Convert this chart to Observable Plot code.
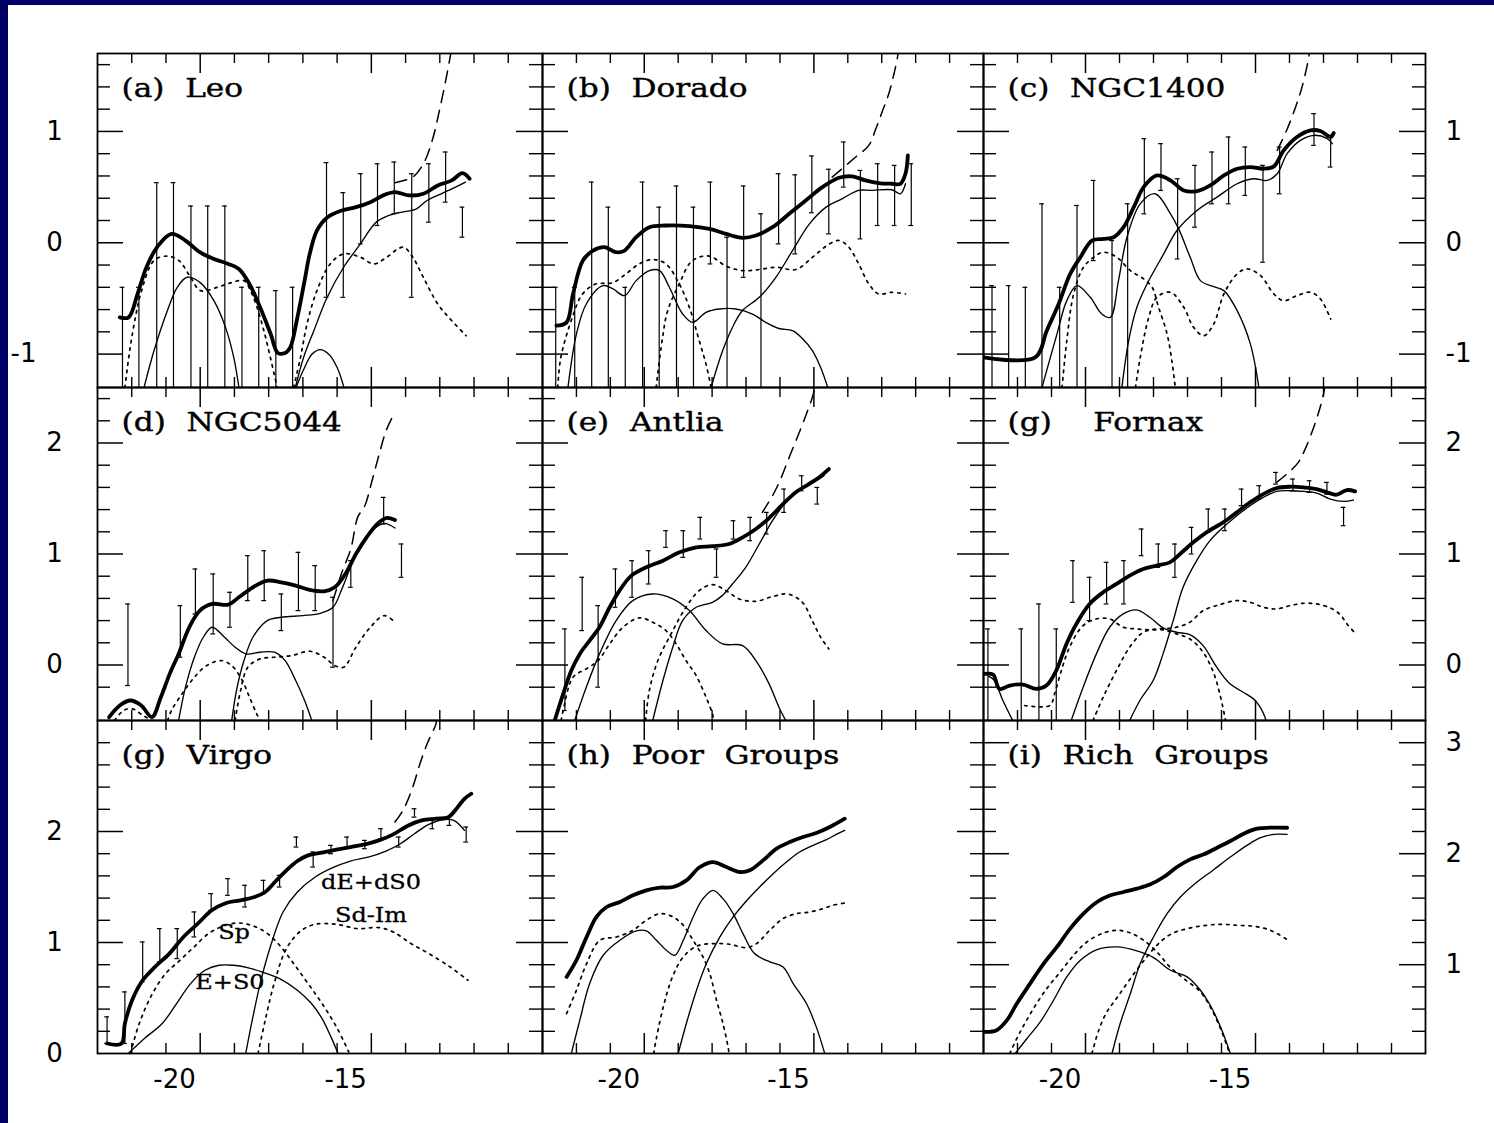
<!DOCTYPE html>
<html><head><meta charset="utf-8">
<script src="https://cdn.jsdelivr.net/npm/d3@7"></script>
<script src="https://cdn.jsdelivr.net/npm/@observablehq/plot@0.6"></script>
<style>
html,body{margin:0;padding:0;background:#fff;}
#page{position:relative;width:1494px;height:1123px;background:#fff;overflow:hidden;}
#bandTop{position:absolute;left:0;top:0;width:1494px;height:5px;background:#000068;}
#bandLeft{position:absolute;left:0;top:0;width:8px;height:1123px;background:#000068;}
</style></head>
<body><div id="page"><div id="bandTop"></div><div id="bandLeft"></div></div>
<script>
// ---------- tick / label values ----------
const xDomain = [-22.25, -9.25];
const xMinorTicks = [-21.25, -20.25, -18.25, -17.25, -16.25, -15.25, -13.25, -12.25, -11.25, -10.25];
const xMajorTicks = [-19.25, -14.25];
const xTickLabels = [-20, -15];
const leftLabelsRow = [[1, 0, -1], [2, 1, 0], [2, 1, 0]];
const rightLabelsRow = [[1, 0, -1], [2, 1, 0], [3, 2, 1]];

// ---------- (a) Leo ----------
const leo_total = [[-21.60,-0.67],[-21.34,-0.67],[-21.08,-0.46],[-20.82,-0.22],[-20.51,-0.04],[-20.09,0.08],[-19.68,0.02],[-19.26,-0.085],[-18.85,-0.145],[-18.43,-0.19],[-18.12,-0.235],[-17.81,-0.37],[-17.50,-0.58],[-17.19,-0.82],[-16.98,-0.99],[-16.77,-0.99],[-16.62,-0.94],[-16.41,-0.67],[-16.20,-0.34],[-16.05,-0.10],[-15.84,0.11],[-15.53,0.23],[-15.11,0.29],[-14.70,0.32],[-14.28,0.365],[-13.87,0.43],[-13.56,0.455],[-13.14,0.425],[-12.73,0.44],[-12.31,0.515],[-11.90,0.56],[-11.59,0.625],[-11.38,0.575]];
const leo_e = [[-20.89,-1.3],[-20.6,-0.97],[-20.21,-0.61],[-19.92,-0.40],[-19.63,-0.31],[-19.24,-0.36],[-18.85,-0.52],[-18.51,-0.76],[-18.27,-1.03],[-18.12,-1.3]];
const leo_e2 = [[-16.45,-1.3],[-16.2,-1.12],[-15.98,-1.0],[-15.74,-0.96],[-15.5,-1.0],[-15.25,-1.12],[-15.05,-1.3]];
const leo_de = [[-16.47,-1.3],[-16.23,-1.03],[-15.93,-0.79],[-15.54,-0.49],[-15.06,-0.22],[-14.57,-0.01],[-14.09,0.19],[-13.6,0.26],[-13.35,0.275],[-12.93,0.305],[-12.62,0.38],[-12.21,0.44],[-11.79,0.50],[-11.5,0.545]];
const leo_sp = [[-21.45,-1.3],[-21.3,-0.95],[-21.13,-0.65],[-20.99,-0.46],[-20.6,-0.16],[-20.21,-0.12],[-19.87,-0.16],[-19.55,-0.3],[-19.24,-0.43],[-18.75,-0.40],[-18.36,-0.36],[-17.97,-0.34],[-17.78,-0.43],[-17.59,-0.58],[-17.39,-0.79],[-17.2,-1.03],[-17.0,-1.3]];
const leo_sd = [[-16.52,-1.3],[-16.32,-1.03],[-16.13,-0.73],[-15.84,-0.43],[-15.45,-0.19],[-15.06,-0.10],[-14.57,-0.13],[-14.18,-0.19],[-13.8,-0.13],[-13.5,-0.06],[-13.3,-0.04],[-13.04,-0.13],[-12.73,-0.31],[-12.31,-0.55],[-11.9,-0.70],[-11.48,-0.835]];
const leo_ext = [[-13.56,0.54],[-13.04,0.59],[-12.73,0.71],[-12.47,0.92],[-12.26,1.19],[-12.05,1.5],[-11.93,1.7]];
const leo_err = [[-21.52,-0.40,-1.3],[-21.04,-0.40,-1.3],[-20.52,0.54,-1.3],[-20.03,0.54,-1.3],[-19.52,0.33,-1.3],[-19.03,0.33,-1.3],[-18.53,0.33,-1.3],[-18.03,-0.40,-1.3],[-17.54,-0.40,-1.3],[-17.04,-0.43,-1.3],[-16.55,-0.40,-1.3],[-15.56,0.72,-0.49],[-15.07,0.45,-0.49],[-14.56,0.62,-0.01],[-14.07,0.71,0.155],[-13.58,0.725,0.26],[-13.07,0.62,-0.49],[-12.57,0.71,0.185],[-12.08,0.815,0.365],[-11.59,0.32,0.05]];

// ---------- (b) Dorado ----------
const dor_total = [[-21.84,-0.745],[-21.54,-0.715],[-21.35,-0.46],[-21.06,-0.16],[-20.76,-0.07],[-20.42,-0.04],[-20.08,-0.085],[-19.83,-0.07],[-19.49,0.05],[-19.10,0.14],[-18.61,0.155],[-17.92,0.15],[-17.33,0.125],[-16.84,0.08],[-16.35,0.044],[-15.96,0.065],[-15.47,0.14],[-14.98,0.26],[-14.49,0.38],[-14.00,0.50],[-13.51,0.584],[-13.12,0.596],[-12.73,0.56],[-12.34,0.536],[-11.95,0.53],[-11.70,0.53],[-11.55,0.62],[-11.48,0.785]];
const dor_e = [[-21.50,-1.3],[-21.25,-0.82],[-20.96,-0.55],[-20.47,-0.385],[-20.17,-0.415],[-19.83,-0.475],[-19.49,-0.34],[-19.10,-0.25],[-18.80,-0.25],[-18.51,-0.40],[-18.12,-0.64],[-17.82,-0.715],[-17.43,-0.625],[-17.04,-0.595],[-16.55,-0.595],[-16.06,-0.64],[-15.67,-0.715],[-15.28,-0.77],[-14.88,-0.79],[-14.59,-0.86],[-14.29,-0.97],[-14.05,-1.12],[-13.84,-1.3]];
const dor_de = [[-17.28,-1.3],[-16.94,-0.97],[-16.6,-0.73],[-16.36,-0.61],[-15.86,-0.49],[-15.37,-0.31],[-14.88,-0.07],[-14.38,0.17],[-13.89,0.32],[-13.45,0.39],[-12.93,0.47],[-12.53,0.47],[-11.95,0.476],[-11.70,0.44],[-11.55,0.53]];
const dor_sp = [[-21.8,-1.3],[-21.71,-1.03],[-21.37,-0.67],[-21.07,-0.46],[-20.68,-0.37],[-20.19,-0.36],[-19.79,-0.28],[-19.4,-0.19],[-19.0,-0.15],[-18.61,-0.19],[-18.22,-0.37],[-17.92,-0.58],[-17.63,-0.88],[-17.43,-1.09],[-17.28,-1.3]];
const dor_sd = [[-18.9,-1.3],[-18.86,-1.2],[-18.71,-0.85],[-18.56,-0.61],[-18.22,-0.37],[-17.83,-0.16],[-17.33,-0.12],[-16.84,-0.21],[-16.36,-0.25],[-15.86,-0.24],[-15.37,-0.22],[-14.78,-0.24],[-14.29,-0.13],[-13.79,-0.01],[-13.5,0.02],[-13.22,-0.04],[-12.93,-0.19],[-12.63,-0.37],[-12.34,-0.46],[-11.95,-0.445],[-11.55,-0.46]];
const dor_ext = [[-13.71,0.59],[-13.02,0.77],[-12.63,0.875],[-12.44,1.01],[-12.24,1.175],[-12.04,1.34],[-11.8,1.64],[-11.77,1.7]];
const dor_err = [[-21.86,-0.40,-1.3],[-21.30,-0.40,-1.3],[-20.80,0.545,-1.3],[-20.31,0.32,-1.3],[-19.81,-0.40,-1.3],[-19.30,0.545,-1.3],[-18.81,0.32,-1.3],[-18.30,0.51,-1.3],[-17.80,0.32,-1.3],[-17.30,0.545,-0.19],[-16.81,0.05,-1.3],[-16.32,0.51,-0.31],[-15.81,0.26,-1.3],[-15.29,0.62,-0.01],[-14.80,0.61,-0.10],[-14.31,0.78,0.27],[-13.81,0.66,0.08],[-13.37,0.905,0.50],[-12.88,0.65,0.035],[-12.37,0.71,0.155],[-11.87,0.695,0.155],[-11.38,0.71,0.155]];

// ---------- (c) NGC1400 ----------
const n14_total = [[-22.25,-1.03],[-20.73,-1.03],[-20.39,-0.79],[-20.04,-0.55],[-19.70,-0.28],[-19.40,-0.13],[-19.06,0.02],[-18.72,0.035],[-18.42,0.05],[-18.13,0.14],[-17.83,0.32],[-17.54,0.50],[-17.15,0.605],[-16.75,0.56],[-16.36,0.47],[-15.97,0.464],[-15.58,0.515],[-15.18,0.605],[-14.79,0.665],[-14.40,0.68],[-14.01,0.665],[-13.71,0.686],[-13.42,0.83],[-13.03,0.95],[-12.63,1.01],[-12.34,1.004],[-12.04,0.95],[-11.95,0.986]];
const n14_e = [[-20.53,-1.3],[-20.09,-0.82],[-19.80,-0.52],[-19.50,-0.385],[-19.11,-0.49],[-18.77,-0.64],[-18.52,-0.67],[-18.28,-0.34],[-18.03,0.05],[-17.64,0.35],[-17.20,0.44],[-16.75,0.26],[-16.51,0.125],[-16.17,-0.13],[-15.87,-0.34],[-15.48,-0.395],[-15.18,-0.43],[-14.79,-0.61],[-14.40,-0.91],[-14.15,-1.3]];
const n14_de = [[-18.18,-1.3],[-17.98,-0.88],[-17.74,-0.58],[-17.44,-0.37],[-16.95,-0.10],[-16.56,0.11],[-15.97,0.29],[-15.38,0.41],[-14.79,0.53],[-14.30,0.575],[-13.91,0.56],[-13.61,0.62],[-13.32,0.80],[-12.93,0.92],[-12.53,0.965],[-12.14,0.935],[-11.99,0.89]];
const n14_sp = [[-19.94,-1.3],[-19.80,-0.88],[-19.60,-0.46],[-19.31,-0.22],[-19.01,-0.13],[-18.72,-0.085],[-18.33,-0.13],[-17.93,-0.25],[-17.54,-0.325],[-17.29,-0.40],[-17.10,-0.58],[-16.85,-0.82],[-16.71,-1.06],[-16.61,-1.3]];
const n14_sd = [[-17.78,-1.3],[-17.64,-1.03],[-17.39,-0.67],[-17.15,-0.49],[-16.75,-0.445],[-16.36,-0.58],[-16.07,-0.76],[-15.77,-0.835],[-15.48,-0.73],[-15.18,-0.46],[-14.79,-0.28],[-14.50,-0.235],[-14.10,-0.295],[-13.71,-0.46],[-13.42,-0.52],[-13.03,-0.475],[-12.63,-0.445],[-12.34,-0.505],[-12.04,-0.685]];
const n14_ext = [[-13.61,0.83],[-13.32,1.02],[-13.07,1.22],[-12.88,1.40],[-12.68,1.67],[-12.67,1.7]];
const n14_err = [[-22.0,-0.385,-1.3],[-21.51,-0.385,-1.3],[-21.02,-0.40,-1.3],[-20.53,0.35,-1.3],[-20.01,-0.40,-1.3],[-19.50,0.335,-1.3],[-19.01,0.56,-0.16],[-18.47,0.02,-1.3],[-18.01,0.35,-1.3],[-17.52,0.935,0.26],[-17.03,0.89,0.47],[-16.54,0.575,-0.145],[-16.03,0.695,0.14],[-15.53,0.815,0.35],[-15.04,0.95,0.35],[-14.55,0.86,0.425],[-14.03,0.695,-0.175],[-13.54,0.86,0.44],[-12.53,1.16,0.875],[-12.04,0.965,0.68]];

// ---------- (d) NGC5044 ----------
const n50_total = [[-21.91,-0.47],[-21.60,-0.365],[-21.29,-0.32],[-20.97,-0.365],[-20.66,-0.47],[-20.40,-0.29],[-20.14,-0.08],[-19.88,0.10],[-19.57,0.34],[-19.26,0.49],[-18.90,0.55],[-18.43,0.544],[-18.12,0.61],[-17.71,0.70],[-17.29,0.76],[-16.88,0.745],[-16.46,0.715],[-16.05,0.676],[-15.63,0.664],[-15.32,0.70],[-15.01,0.82],[-14.70,1.0],[-14.39,1.15],[-14.08,1.27],[-13.82,1.324],[-13.56,1.306]];
const n50_e = [[-19.88,-0.5],[-19.68,-0.20],[-19.42,0.07],[-19.16,0.25],[-18.90,0.34],[-18.54,0.25],[-18.23,0.16],[-17.91,0.10],[-17.50,0.115],[-17.08,0.115],[-16.77,0.04],[-16.46,-0.14],[-16.20,-0.32],[-15.99,-0.5]];
const n50_de = [[-18.33,-0.5],[-18.17,-0.20],[-17.97,0.04],[-17.71,0.25],[-17.29,0.40],[-16.88,0.43],[-16.25,0.445],[-15.74,0.466],[-15.37,0.52],[-15.11,0.685],[-14.80,0.925],[-14.49,1.105],[-14.18,1.225],[-13.87,1.276],[-13.56,1.234]];
const n50_sp0 = [[-21.75,-0.5],[-21.49,-0.41],[-21.23,-0.395],[-20.92,-0.455],[-20.66,-0.5]];
const n50_sp = [[-20.2,-0.5],[-20.09,-0.41],[-19.78,-0.26],[-19.42,-0.11],[-19.06,-0.005],[-18.64,0.04],[-18.33,-0.005],[-18.02,-0.14],[-17.81,-0.29],[-17.60,-0.44],[-17.5,-0.5]];
const n50_sd = [[-18.23,-0.5],[-18.07,-0.23],[-17.86,-0.02],[-17.50,0.055],[-17.08,0.07],[-16.57,0.085],[-16.05,0.124],[-15.63,0.07],[-15.32,-0.005],[-15.06,-0.02],[-14.70,0.16],[-14.28,0.34],[-13.87,0.445],[-13.56,0.385]];
const n50_ext = [[-15.37,0.58],[-15.11,0.835],[-14.85,1.045],[-14.65,1.33],[-14.44,1.435],[-14.23,1.66],[-14.02,1.90],[-13.82,2.11],[-13.56,2.28]];
const n50_err = [[-21.36,0.55,-0.185],[-19.83,0.535,0.07],[-19.39,0.865,0.46],[-18.87,0.82,0.28],[-18.38,0.655,0.34],[-17.86,0.985,0.58],[-17.38,1.03,0.58],[-16.88,0.64,0.31],[-16.38,1.015,0.49],[-15.89,0.895,0.49],[-15.37,0.61,-0.02],[-14.85,0.94,0.70],[-13.89,1.51,1.27],[-13.37,1.09,0.79]];

// ---------- (e) Antlia ----------
const ant_total = [[-21.89,-0.5],[-21.64,-0.26],[-21.40,-0.05],[-21.15,0.10],[-20.86,0.22],[-20.57,0.34],[-20.27,0.52],[-19.98,0.67],[-19.63,0.805],[-19.19,0.88],[-18.70,0.94],[-18.21,1.015],[-17.72,1.06],[-17.24,1.07],[-16.75,1.09],[-16.35,1.15],[-15.96,1.225],[-15.57,1.324],[-15.18,1.444],[-14.79,1.555],[-14.40,1.63],[-14.10,1.69],[-13.81,1.765]];
const ant_e = [[-21.30,-0.5],[-20.96,-0.20],[-20.57,0.10],[-20.08,0.40],[-19.59,0.58],[-19.00,0.64],[-18.41,0.595],[-17.92,0.49],[-17.43,0.31],[-16.94,0.19],[-16.35,0.175],[-15.96,0.04],[-15.57,-0.17],[-15.28,-0.38],[-15.08,-0.5]];
const ant_de = [[-19.00,-0.5],[-18.70,-0.14],[-18.41,0.16],[-18.12,0.40],[-17.72,0.52],[-17.24,0.565],[-16.95,0.625],[-16.65,0.73],[-16.26,0.88],[-15.86,1.09],[-15.47,1.30],[-15.08,1.465],[-14.69,1.57],[-14.30,1.636],[-13.95,1.705]];
const ant_sp = [[-21.7,-0.5],[-21.64,-0.41],[-21.35,-0.11],[-20.96,-0.035],[-20.61,0.04],[-20.27,0.19],[-19.88,0.34],[-19.39,0.425],[-19.00,0.385],[-18.61,0.31],[-18.31,0.19],[-18.02,0.04],[-17.72,-0.095],[-17.43,-0.29],[-17.24,-0.44],[-17.2,-0.5]];
const ant_sd = [[-19.21,-0.5],[-19.10,-0.23],[-18.85,0.04],[-18.46,0.28],[-18.02,0.52],[-17.63,0.67],[-17.24,0.724],[-16.84,0.67],[-16.45,0.595],[-15.96,0.574],[-15.47,0.616],[-15.03,0.64],[-14.59,0.565],[-14.30,0.40],[-14.05,0.25],[-13.81,0.145]];
const ant_ext = [[-15.77,1.375],[-15.47,1.525],[-15.23,1.675],[-14.98,1.87],[-14.74,2.05],[-14.49,2.245],[-14.28,2.425],[-14.22,2.5]];
const ant_err = [[-21.59,0.325,-0.41],[-21.08,0.79,0.31],[-20.61,0.535,-0.20],[-20.10,0.865,0.52],[-19.61,0.94,0.61],[-19.12,1.03,0.73],[-18.61,1.21,1.06],[-18.10,1.21,0.97],[-17.60,1.33,1.135],[-17.12,1.045,0.79],[-16.62,1.30,1.135],[-16.13,1.33,1.12],[-15.64,1.375,1.18],[-15.13,1.585,1.375],[-14.61,1.705,1.57],[-14.15,1.60,1.45]];

// ---------- (g) Fornax ----------
const for_total = [[-22.22,-0.08],[-21.97,-0.086],[-21.78,-0.215],[-21.48,-0.185],[-21.09,-0.176],[-20.70,-0.215],[-20.40,-0.185],[-20.11,-0.05],[-19.81,0.19],[-19.52,0.37],[-19.13,0.55],[-18.73,0.655],[-18.34,0.73],[-17.95,0.805],[-17.55,0.865],[-17.16,0.895],[-16.77,0.925],[-16.47,1.0],[-16.08,1.105],[-15.69,1.195],[-15.20,1.285],[-14.80,1.375],[-14.41,1.465],[-14.02,1.54],[-13.63,1.594],[-13.23,1.606],[-12.84,1.60],[-12.45,1.585],[-12.05,1.546],[-11.86,1.534],[-11.56,1.576],[-11.32,1.564]];
const for_e0 = [[-22.1,-0.1],[-21.93,-0.14],[-21.68,-0.32],[-21.39,-0.5]];
const for_e = [[-19.67,-0.5],[-19.32,-0.20],[-18.93,0.10],[-18.54,0.34],[-18.14,0.46],[-17.75,0.496],[-17.36,0.43],[-16.97,0.334],[-16.57,0.295],[-16.18,0.274],[-15.79,0.175],[-15.39,-0.02],[-15.00,-0.17],[-14.61,-0.245],[-14.26,-0.32],[-13.97,-0.47],[-13.95,-0.5]];
const for_de = [[-17.95,-0.5],[-17.65,-0.32],[-17.26,-0.14],[-16.97,0.10],[-16.67,0.40],[-16.38,0.70],[-15.98,0.94],[-15.59,1.12],[-15.20,1.24],[-14.80,1.345],[-14.41,1.435],[-14.02,1.51],[-13.63,1.564],[-13.23,1.57],[-12.84,1.564],[-12.45,1.549],[-12.05,1.495],[-11.66,1.474],[-11.37,1.486]];
const for_sp = [[-21.04,-0.365],[-20.30,-0.365],[-20.16,-0.26],[-19.96,-0.05],[-19.72,0.16],[-19.32,0.355],[-18.93,0.415],[-18.54,0.415],[-18.14,0.34],[-17.75,0.325],[-17.36,0.316],[-16.97,0.316],[-16.57,0.28],[-16.18,0.235],[-15.79,0.115],[-15.49,-0.065],[-15.30,-0.26],[-15.15,-0.47],[-15.13,-0.5]];
const for_sd = [[-19.03,-0.5],[-18.73,-0.29],[-18.34,-0.05],[-17.95,0.16],[-17.55,0.295],[-17.16,0.325],[-16.67,0.334],[-16.18,0.385],[-15.79,0.49],[-15.30,0.544],[-14.80,0.58],[-14.41,0.565],[-14.02,0.52],[-13.63,0.505],[-13.23,0.535],[-12.84,0.556],[-12.45,0.55],[-12.05,0.514],[-11.76,0.454],[-11.56,0.37],[-11.32,0.286]];
const for_ext = [[-13.63,1.645],[-13.33,1.72],[-12.99,1.825],[-12.79,1.945],[-12.54,2.14],[-12.35,2.32],[-12.23,2.47],[-12.22,2.5]];
const for_err = [[-22.12,0.325,-0.5],[-21.14,0.325,-0.5],[-20.62,0.55,-0.5],[-20.11,0.325,-0.5],[-19.62,0.94,0.565],[-19.13,0.79,0.40],[-18.63,0.925,0.55],[-18.12,0.94,0.55],[-17.60,1.225,0.985],[-17.11,1.09,0.88],[-16.62,1.09,0.79],[-16.13,1.24,1.0],[-15.64,1.405,1.195],[-15.15,1.405,1.21],[-14.66,1.585,1.435],[-14.14,1.615,1.495],[-13.65,1.735,1.63],[-13.15,1.675,1.57],[-12.66,1.66,1.555],[-12.15,1.645,1.54],[-11.66,1.42,1.255]];

// ---------- (g) Virgo ----------
const vir_total = [[-21.97,0.09],[-21.55,0.09],[-21.45,0.27],[-21.24,0.48],[-20.93,0.66],[-20.57,0.78],[-20.15,0.90],[-19.74,1.05],[-19.32,1.17],[-18.91,1.29],[-18.49,1.356],[-18.08,1.38],[-17.66,1.41],[-17.35,1.455],[-17.04,1.554],[-16.73,1.65],[-16.41,1.734],[-16.10,1.785],[-15.69,1.81],[-15.27,1.836],[-14.86,1.86],[-14.44,1.884],[-14.03,1.92],[-13.61,1.974],[-13.20,2.05],[-12.78,2.10],[-12.36,2.115],[-12.00,2.13],[-11.74,2.214],[-11.53,2.295],[-11.33,2.34]];
const vir_e = [[-21.35,0.0],[-20.88,0.135],[-20.36,0.27],[-19.94,0.45],[-19.53,0.63],[-19.11,0.75],[-18.70,0.795],[-18.28,0.795],[-17.87,0.774],[-17.45,0.735],[-16.93,0.675],[-16.41,0.57],[-16.00,0.45],[-15.69,0.315],[-15.43,0.15],[-15.22,0.0]];
const vir_de = [[-17.92,0.0],[-17.71,0.33],[-17.45,0.69],[-17.14,1.02],[-16.83,1.275],[-16.41,1.455],[-15.89,1.59],[-15.38,1.674],[-14.86,1.734],[-14.34,1.77],[-13.82,1.824],[-13.40,1.89],[-12.99,1.98],[-12.57,2.064],[-12.16,2.106],[-11.84,2.10],[-11.53,2.01]];
const vir_sp = [[-21.29,0.0],[-21.03,0.27],[-20.67,0.525],[-20.26,0.72],[-19.84,0.84],[-19.43,0.96],[-19.01,1.08],[-18.59,1.146],[-18.18,1.176],[-17.76,1.155],[-17.35,1.095],[-16.93,0.975],[-16.52,0.81],[-16.10,0.63],[-15.69,0.45],[-15.27,0.24],[-14.91,0.015]];
const vir_sd = [[-17.56,0.0],[-17.35,0.30],[-17.09,0.63],[-16.73,0.945],[-16.31,1.104],[-15.89,1.164],[-15.27,1.164],[-14.65,1.125],[-14.03,1.134],[-13.61,1.095],[-13.09,0.99],[-12.57,0.90],[-11.95,0.78],[-11.43,0.66]];
const vir_ext = [[-13.56,2.085],[-13.30,2.205],[-13.04,2.40],[-12.83,2.61],[-12.62,2.79],[-12.36,2.97],[-12.35,3.0]];
const vir_err = [[-21.97,0.33,0.09],[-21.45,0.555,0.09],[-20.93,1.005,0.645],[-20.43,1.125,0.825],[-19.92,1.125,0.855],[-19.42,1.275,1.05],[-18.93,1.44,1.29],[-18.44,1.575,1.425],[-17.94,1.515,1.32],[-17.40,1.56,1.44],[-16.93,1.605,1.50],[-16.44,1.95,1.86],[-15.95,1.815,1.68],[-15.43,1.875,1.80],[-14.96,1.95,1.86],[-14.44,1.92,1.845],[-13.97,2.025,1.935],[-13.45,1.95,1.86],[-12.99,2.205,2.13],[-12.47,2.10,2.025],[-11.97,2.13,2.055],[-11.48,2.04,1.905]];
const vir_notes = [
  {m: -14.26, v: 1.536, text: "dE+dS0"},
  {m: -14.26, v: 1.239, text: "Sd-Im"},
  {m: -18.26, v: 1.09, text: "Sp"},
  {m: -18.38, v: 0.64, text: "E+S0"}
];

// ---------- (h) Poor Groups ----------
const poor_total = [[-21.54,0.69],[-21.25,0.84],[-20.95,1.05],[-20.66,1.23],[-20.36,1.32],[-19.97,1.365],[-19.58,1.425],[-19.19,1.47],[-18.79,1.494],[-18.40,1.50],[-18.01,1.56],[-17.61,1.68],[-17.22,1.725],[-16.83,1.68],[-16.43,1.635],[-16.14,1.65],[-15.75,1.74],[-15.35,1.845],[-14.96,1.905],[-14.57,1.95],[-14.18,1.986],[-13.78,2.04],[-13.34,2.115]];
const poor_e = [[-21.40,0.0],[-21.15,0.30],[-20.86,0.63],[-20.46,0.885],[-19.97,1.02],[-19.48,1.104],[-19.19,1.104],[-18.89,1.02],[-18.60,0.93],[-18.35,0.885],[-18.10,1.02],[-17.81,1.23],[-17.52,1.395],[-17.22,1.47],[-16.93,1.395],[-16.63,1.26],[-16.34,1.08],[-16.00,0.90],[-15.55,0.825],[-15.16,0.78],[-14.86,0.63],[-14.47,0.45],[-14.18,0.24],[-13.93,0.0]];
const poor_de = [[-18.25,0.0],[-18.01,0.27],[-17.71,0.57],[-17.42,0.81],[-17.02,1.05],[-16.63,1.23],[-16.24,1.374],[-15.85,1.50],[-15.45,1.62],[-15.06,1.725],[-14.67,1.815],[-14.27,1.875],[-13.88,1.926],[-13.59,1.974],[-13.34,2.01]];
const poor_sp = [[-21.54,0.36],[-21.25,0.57],[-20.95,0.81],[-20.56,1.02],[-20.07,1.05],[-19.58,1.11],[-19.19,1.20],[-18.79,1.26],[-18.40,1.23],[-18.10,1.155],[-17.81,1.02],[-17.52,0.87],[-17.32,0.72],[-17.12,0.48],[-16.93,0.27],[-16.78,0.06],[-16.75,0.0]];
const poor_sd = [[-18.97,0.0],[-18.94,0.06],[-18.69,0.42],[-18.40,0.705],[-18.10,0.87],[-17.71,0.966],[-17.22,0.99],[-16.73,0.984],[-16.24,0.954],[-15.94,0.99],[-15.55,1.11],[-15.16,1.215],[-14.76,1.26],[-14.37,1.275],[-13.98,1.305],[-13.69,1.335],[-13.34,1.356]];

// ---------- (i) Rich Groups ----------
const rich_total = [[-22.20,0.395],[-21.86,0.41],[-21.56,0.50],[-21.27,0.65],[-20.88,0.83],[-20.48,1.01],[-20.09,1.16],[-19.70,1.325],[-19.31,1.46],[-18.91,1.565],[-18.52,1.625],[-18.13,1.655],[-17.74,1.685],[-17.34,1.724],[-16.95,1.79],[-16.56,1.88],[-16.17,1.949],[-15.77,1.994],[-15.38,2.054],[-14.99,2.114],[-14.60,2.18],[-14.20,2.225],[-13.81,2.234],[-13.32,2.234]];
const rich_e = [[-21.32,0.2],[-20.97,0.335],[-20.58,0.485],[-20.19,0.68],[-19.80,0.89],[-19.40,1.04],[-18.91,1.136],[-18.32,1.16],[-17.74,1.124],[-17.25,1.064],[-16.75,0.95],[-16.26,0.89],[-15.87,0.77],[-15.58,0.635],[-15.28,0.44],[-14.99,0.2]];
const rich_de = [[-18.47,0.2],[-18.23,0.47],[-17.93,0.74],[-17.64,1.01],[-17.25,1.25],[-16.85,1.46],[-16.46,1.61],[-15.97,1.745],[-15.48,1.856],[-14.99,1.97],[-14.50,2.075],[-14.10,2.144],[-13.71,2.174],[-13.32,2.174]];
const rich_sp = [[-21.48,0.2],[-21.17,0.395],[-20.78,0.605],[-20.39,0.785],[-19.99,0.935],[-19.60,1.085],[-19.21,1.205],[-18.72,1.286],[-18.32,1.31],[-17.93,1.286],[-17.54,1.22],[-17.15,1.115],[-16.75,0.974],[-16.36,0.875],[-15.87,0.755],[-15.58,0.62],[-15.28,0.425],[-15.01,0.2]];
const rich_sd = [[-19.06,0.2],[-18.86,0.41],[-18.62,0.575],[-18.32,0.704],[-17.93,0.875],[-17.54,1.034],[-17.15,1.175],[-16.75,1.274],[-16.26,1.325],[-15.77,1.352],[-15.28,1.364],[-14.79,1.355],[-14.30,1.346],[-13.81,1.31],[-13.32,1.226]];

// ---------- layout ----------
const COLS = [{left: 97, width: 445}, {left: 542, width: 441}, {left: 983, width: 442}];
const ROWS = [{top: 53, height: 334}, {top: 387, height: 333}, {top: 720, height: 333}];

const panels = [
  {label: "(a) Leo", col: 0, row: 0, y: [-1.3, 1.7], total: leo_total, solid: [leo_e, leo_e2, leo_de], dotted: [leo_sp, leo_sd], dashed: leo_ext, err: leo_err},
  {label: "(b) Dorado", col: 1, row: 0, y: [-1.3, 1.7], total: dor_total, solid: [dor_e, dor_de], dotted: [dor_sp, dor_sd], dashed: dor_ext, err: dor_err},
  {label: "(c) NGC1400", col: 2, row: 0, y: [-1.3, 1.7], total: n14_total, solid: [n14_e, n14_de], dotted: [n14_sp, n14_sd], dashed: n14_ext, err: n14_err},
  {label: "(d) NGC5044", col: 0, row: 1, y: [-0.5, 2.5], total: n50_total, solid: [n50_e, n50_de], dotted: [n50_sp0, n50_sp, n50_sd], dashed: n50_ext, err: n50_err},
  {label: "(e) Antlia", col: 1, row: 1, y: [-0.5, 2.5], total: ant_total, solid: [ant_e, ant_de], dotted: [ant_sp, ant_sd], dashed: ant_ext, err: ant_err},
  {label: "(g)  Fornax", col: 2, row: 1, y: [-0.5, 2.5], total: for_total, solid: [for_e0, for_e, for_de], dotted: [for_sp, for_sd], dashed: for_ext, err: for_err},
  {label: "(g) Virgo", col: 0, row: 2, y: [0, 3], total: vir_total, solid: [vir_e, vir_de], dotted: [vir_sp, vir_sd], dashed: vir_ext, err: vir_err, notes: vir_notes},
  {label: "(h) Poor Groups", col: 1, row: 2, y: [0, 3], total: poor_total, solid: [poor_e, poor_de], dotted: [poor_sp, poor_sd], dashed: null, err: []},
  {label: "(i) Rich Groups", col: 2, row: 2, y: [0.2, 3.2], total: rich_total, solid: [rich_e, rich_de], dotted: [rich_sp, rich_sd], dashed: null, err: []}
];

const CAP = 0.07;
const INK = "#000";
const SANS = "DejaVu Sans";
const SERIF = "DejaVu Serif";
const SERIF_STRETCH = 1.2;
const page = document.getElementById("page");

function yTicks(dom) {
  const n0 = Math.round(dom[0] * 5), n1 = Math.round(dom[1] * 5);
  const minor = [], major = [];
  for (let k = n0 + 1; k < n1; k++) {
    if (k % 5 === 0) major.push(k / 5); else minor.push(k / 5);
  }
  return {minor, major};
}
const fmt = d => (d < 0 ? "-" + Math.abs(d) : String(d));
const line = (data, o) => Plot.line(data, Object.assign({x: d => d[0], y: d => d[1], curve: "catmull-rom", stroke: INK, clip: true, strokeLinejoin: "round"}, o));

for (const p of panels) {
  const W = COLS[p.col].width, H = ROWS[p.row].height;
  const {minor, major} = yTicks(p.y);
  const marks = [
    Plot.frame({stroke: INK, strokeWidth: 1.8}),
    Plot.tickX(xMinorTicks, {x: d => d, insetTop: H - 10, stroke: INK, strokeWidth: 1.4}),
    Plot.tickX(xMinorTicks, {x: d => d, insetBottom: H - 10, stroke: INK, strokeWidth: 1.4}),
    Plot.tickX(xMajorTicks, {x: d => d, insetTop: H - 20, stroke: INK, strokeWidth: 1.5}),
    Plot.tickX(xMajorTicks, {x: d => d, insetBottom: H - 20, stroke: INK, strokeWidth: 1.5}),
    Plot.tickY(minor, {y: d => d, insetRight: W - 13, stroke: INK, strokeWidth: 1.4}),
    Plot.tickY(minor, {y: d => d, insetLeft: W - 13, stroke: INK, strokeWidth: 1.4}),
    Plot.tickY(major, {y: d => d, insetRight: W - 26, stroke: INK, strokeWidth: 1.5}),
    Plot.tickY(major, {y: d => d, insetLeft: W - 26, stroke: INK, strokeWidth: 1.5})
  ];
  if (p.err.length) {
    marks.push(
      Plot.ruleX(p.err, {x: d => d[0], y1: d => d[1], y2: d => d[2], stroke: INK, strokeWidth: 1.2}),
      Plot.ruleY(p.err, {y: d => d[1], x1: d => d[0] - CAP, x2: d => d[0] + CAP, stroke: INK, strokeWidth: 1.2}),
      Plot.ruleY(p.err, {y: d => d[2], x1: d => d[0] - CAP, x2: d => d[0] + CAP, stroke: INK, strokeWidth: 1.2})
    );
  }
  for (const s of p.dotted) marks.push(line(s, {strokeWidth: 1.7, strokeDasharray: "2.5,5"}));
  for (const s of p.solid) marks.push(line(s, {strokeWidth: 1.35}));
  if (p.dashed) marks.push(line(p.dashed, {strokeWidth: 1.5, strokeDasharray: "12,8"}));
  marks.push(line(p.total, {strokeWidth: 3.8, strokeLinecap: "round"}));
  marks.push(Plot.text([p.label], {frameAnchor: "top-left", dx: 24, dy: 25, lineAnchor: "top", textAnchor: "start", text: d => d, fontFamily: SERIF, fontSize: 26, fill: INK, stroke: INK, strokeWidth: 0.4}));
  if (p.notes) {
    marks.push(Plot.text(p.notes, {x: "m", y: "v", text: "text", textAnchor: "middle", fontFamily: SERIF, fontSize: 20, fill: INK, stroke: INK, strokeWidth: 0.3}));
  }
  if (p.col === 0) {
    const labs = leftLabelsRow[p.row];
    marks.push(Plot.text(labs.filter(d => d >= 0), {y: d => d, text: fmt, frameAnchor: "left", dx: -43, textAnchor: "middle", fontFamily: SANS, fontSize: 26, fill: INK}));
    marks.push(Plot.text(labs.filter(d => d < 0), {y: d => d, text: fmt, frameAnchor: "left", dx: -61, textAnchor: "end", fontFamily: SANS, fontSize: 26, fill: INK}));
  }
  if (p.col === 2) {
    marks.push(Plot.text(rightLabelsRow[p.row], {y: d => d, text: fmt, frameAnchor: "right", dx: 20, textAnchor: "start", fontFamily: SANS, fontSize: 26, fill: INK}));
  }
  if (p.row === 2) {
    marks.push(Plot.text(xTickLabels, {x: d => d, text: fmt, frameAnchor: "bottom", dy: 34, textAnchor: "middle", fontFamily: SANS, fontSize: 26, fill: INK}));
  }
  const svg = Plot.plot({
    width: W, height: H,
    marginLeft: 0, marginRight: 0, marginTop: 0, marginBottom: 0,
    x: {domain: xDomain, axis: null},
    y: {domain: p.y, axis: null},
    style: {overflow: "visible", background: "transparent"},
    marks
  });
  svg.style.position = "absolute";
  svg.style.left = COLS[p.col].left + "px";
  svg.style.top = ROWS[p.row].top + "px";
  svg.style.maxWidth = "none";
  // horizontal stretch + wide word spacing for the serif (figure-font) labels;
  // the vertical offset (y / dy, possibly in em) is kept untouched
  svg.querySelectorAll("g[font-family='" + SERIF + "'] text").forEach(t => {
    const xa = t.getAttribute("x");
    const x = xa && !/em$/.test(xa) ? parseFloat(xa) : 0;
    if (xa && !/em$/.test(xa)) t.removeAttribute("x");
    const tr = t.getAttribute("transform") || "";
    t.setAttribute("transform", tr + ` translate(${x},0) scale(${SERIF_STRETCH},1)`);
    t.setAttribute("word-spacing", "9");
  });
  page.appendChild(svg);
}
</script>
</body></html>
